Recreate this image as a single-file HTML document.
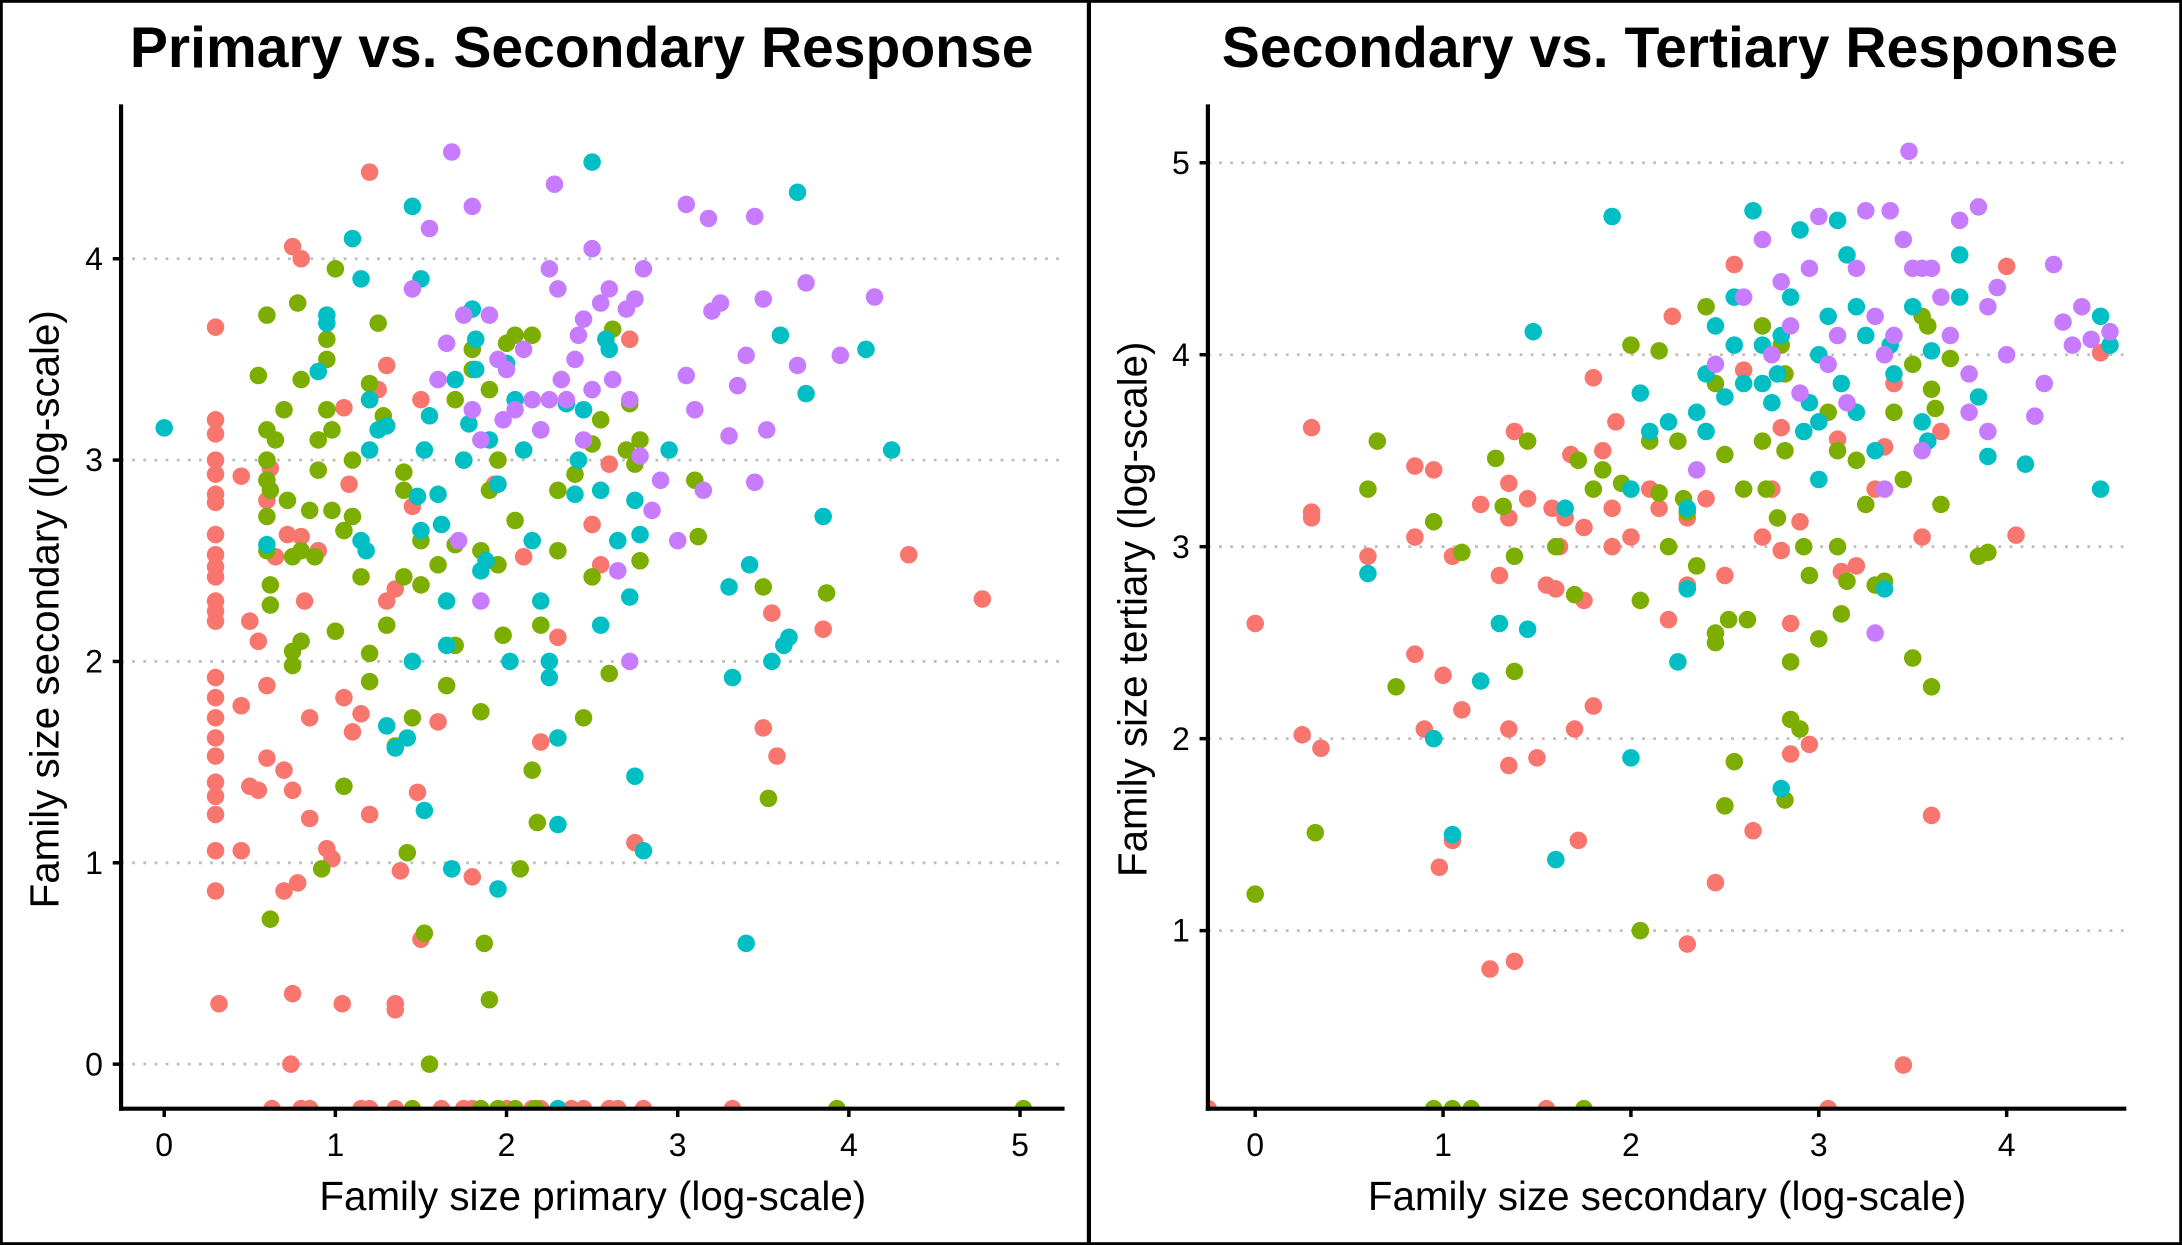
<!DOCTYPE html>
<html><head><meta charset="utf-8"><style>
html,body{margin:0;padding:0;background:#fff}
svg{display:block;font-family:"Liberation Sans",Arial,sans-serif}
</style></head><body>
<svg id="fig" width="2182" height="1245" viewBox="0 0 1568 895" preserveAspectRatio="none" xmlns="http://www.w3.org/2000/svg">
<defs>
<clipPath id="clipL"><rect x="87" y="60" width="680" height="737"/></clipPath>
<clipPath id="clipR"><rect x="868" y="60" width="670" height="737"/></clipPath>
</defs>
<rect x="0" y="0" width="1568" height="895" fill="#fff"/>
<rect x="1" y="1" width="781" height="893" fill="none" stroke="#000" stroke-width="2"/>
<rect x="783" y="1" width="784" height="893" fill="none" stroke="#000" stroke-width="2"/>
<text x="418" y="48" text-anchor="middle" font-size="41" font-weight="bold">Primary vs. Secondary Response</text>
<text x="1200" y="48" text-anchor="middle" font-size="41" font-weight="bold">Secondary vs. Tertiary Response</text>
<g id="gL"></g><g id="gR"></g>
</svg>
<script>
const colors = {red:"#F8766D", green:"#7CAE00", cyan:"#00BFC4", purple:"#C77CFF"};
const leftXTicks = [0,1,2,3,4,5];
const leftYTicks = [0,1,2,3,4];
const rightXTicks = [0,1,2,3,4];
const rightYTicks = [1,2,3,4,5];
const leftRed = [[0.3,3.2],[0.3,3.13],[0.3,3.0],[0.3,2.93],[0.3,2.83],[0.3,2.79],[0.3,2.63],[0.3,2.53],[0.3,2.47],[0.3,2.42],[0.3,2.3],[0.3,2.25],[0.3,2.2],[0.3,1.92],[0.3,1.82],[0.3,1.72],[0.3,1.62],[0.3,1.53],[0.3,1.4],[0.3,1.33],[0.3,1.24],[0.3,1.06],[0.3,0.86],[0.32,0.3],[0.3,3.66],[0.45,2.92],[0.5,2.2],[0.55,2.1],[0.45,1.78],[0.5,1.38],[0.55,1.36],[0.45,1.06],[0.6,1.88],[0.6,1.52],[0.65,2.52],[0.62,2.96],[0.6,2.8],[0.7,1.46],[0.7,0.86],[0.75,1.36],[0.72,2.63],[0.75,4.06],[0.8,4.0],[0.8,2.62],[0.82,2.3],[0.85,1.72],[0.78,0.9],[0.85,1.22],[0.75,0.35],[0.74,0],[0.9,2.55],[0.95,1.07],[0.98,1.02],[1.05,1.82],[1.05,3.26],[1.08,2.88],[1.1,1.65],[1.15,1.74],[1.2,4.43],[1.2,1.24],[1.25,3.35],[1.3,3.47],[1.3,2.3],[1.35,2.36],[1.35,0.3],[1.35,0.27],[1.38,0.96],[1.45,2.77],[1.48,1.35],[1.5,3.3],[1.5,0.62],[1.6,1.7],[1.8,0.93],[1.93,2.88],[2.1,2.52],[2.2,1.6],[2.3,2.12],[2.5,2.68],[2.55,2.48],[2.6,2.98],[2.72,3.6],[2.75,1.1],[3.5,1.67],[3.55,2.24],[3.58,1.53],[3.85,2.16],[4.35,2.53],[4.78,2.31],[1.04,0.3],[0.63,-0.3],[0.8,-0.3],[0.85,-0.3],[1.15,-0.3],[1.2,-0.3],[1.35,-0.3],[1.62,-0.3],[1.75,-0.3],[1.8,-0.3],[2.0,-0.3],[2.15,-0.3],[2.2,-0.3],[2.38,-0.3],[2.45,-0.3],[2.6,-0.3],[2.65,-0.3],[2.8,-0.3],[3.32,-0.3]];
const leftGreen = [[0.55,3.42],[0.6,3.72],[0.6,3.15],[0.65,3.1],[0.6,3.0],[0.6,2.9],[0.62,2.85],[0.6,2.72],[0.6,2.55],[0.62,2.38],[0.62,2.28],[0.7,3.25],[0.72,2.8],[0.75,2.52],[0.75,2.05],[0.75,1.98],[0.8,2.1],[0.8,3.4],[0.78,3.78],[0.8,2.55],[0.85,2.75],[0.88,2.52],[0.9,3.1],[0.9,2.95],[0.95,3.6],[0.95,3.5],[0.95,3.25],[0.98,3.15],[0.98,2.75],[1.0,2.15],[1.0,3.95],[1.05,2.65],[1.1,3.0],[1.1,2.72],[1.15,2.42],[1.2,3.38],[1.2,3.3],[1.2,1.9],[1.25,3.68],[1.28,3.22],[1.3,2.18],[1.35,1.58],[1.4,2.94],[1.4,2.85],[1.4,2.42],[1.42,1.05],[1.45,1.72],[1.5,2.6],[1.5,2.38],[1.52,0.65],[1.55,0.0],[1.6,2.48],[1.65,1.88],[1.7,3.3],[1.7,2.58],[1.7,2.08],[1.75,3.0],[1.8,3.55],[1.8,3.45],[1.85,2.55],[1.85,1.75],[1.87,0.6],[1.9,3.35],[1.9,2.85],[1.9,0.32],[1.95,2.48],[1.95,3.0],[1.98,2.13],[2.0,3.58],[2.05,3.62],[2.05,2.7],[2.08,0.97],[2.15,3.62],[2.15,1.46],[2.18,1.2],[2.2,2.18],[2.3,2.85],[2.3,2.55],[2.4,2.93],[2.45,1.72],[2.5,3.08],[2.5,2.42],[2.55,3.2],[2.6,1.94],[2.62,3.65],[2.7,3.05],[2.72,3.28],[2.75,2.98],[2.78,3.1],[2.78,2.5],[3.12,2.62],[3.1,2.9],[3.5,2.37],[3.53,1.32],[3.87,2.34],[0.62,0.72],[1.05,1.38],[1.2,2.04],[0.92,0.97],[1.45,-0.3],[1.85,-0.3],[1.95,-0.3],[2.05,-0.3],[2.17,-0.3],[3.93,-0.3],[5.02,-0.3]];
const leftCyan = [[0,3.16],[0.95,3.72],[0.95,3.68],[0.9,3.44],[0.6,2.58],[1.1,4.1],[1.15,3.9],[1.2,3.3],[1.2,3.05],[1.25,3.15],[1.3,3.17],[1.15,2.6],[1.18,2.55],[1.3,1.68],[1.35,1.57],[1.42,1.62],[1.45,2.0],[1.45,4.26],[1.5,3.9],[1.52,3.05],[1.55,3.22],[1.48,2.82],[1.5,2.65],[1.52,1.26],[1.6,2.83],[1.62,2.68],[1.65,2.3],[1.65,2.08],[1.7,3.4],[1.68,0.97],[1.75,3.0],[1.78,3.18],[1.8,3.75],[1.82,3.6],[1.82,3.45],[1.85,2.45],[1.88,2.5],[1.9,3.1],[1.95,2.88],[1.95,0.87],[2.0,3.48],[2.05,3.3],[2.02,2.0],[2.1,3.05],[2.15,2.6],[2.2,2.3],[2.2,3.15],[2.25,2.0],[2.25,1.92],[2.3,1.62],[2.3,1.19],[2.35,3.28],[2.4,2.83],[2.42,3.0],[2.45,3.25],[2.5,4.48],[2.55,2.18],[2.58,3.6],[2.6,3.55],[2.55,2.85],[2.65,2.6],[2.72,2.32],[2.75,2.8],[2.75,1.43],[2.78,2.63],[2.8,1.06],[2.95,3.05],[3.3,2.37],[3.32,1.92],[3.4,0.6],[3.42,2.48],[3.55,2.0],[3.6,3.62],[3.62,2.08],[3.65,2.12],[3.7,4.33],[3.75,3.33],[3.85,2.72],[4.1,3.55],[4.25,3.05],[2.3,-0.3]];
const leftPurple = [[1.45,3.85],[1.55,4.15],[1.68,4.53],[1.8,4.26],[1.6,3.4],[1.65,3.58],[1.75,3.72],[1.8,3.25],[1.85,3.1],[1.85,2.3],[1.9,3.72],[1.95,3.5],[1.98,3.2],[2.0,3.45],[2.05,3.25],[2.1,3.55],[2.15,3.3],[2.2,3.15],[2.25,3.95],[2.28,4.37],[2.3,3.85],[2.32,3.4],[2.35,3.3],[2.4,3.5],[2.42,3.62],[2.45,3.7],[2.5,4.05],[2.5,3.35],[2.55,3.78],[2.6,3.85],[2.62,3.4],[2.65,2.45],[2.7,3.75],[2.72,3.3],[2.75,3.8],[2.8,3.95],[2.78,3.02],[2.85,2.75],[2.9,2.9],[3.0,2.6],[3.05,4.27],[3.05,3.42],[3.1,3.25],[3.15,2.85],[3.18,4.2],[3.2,3.74],[3.25,3.78],[3.3,3.12],[3.35,3.37],[3.4,3.52],[3.45,4.21],[3.45,2.89],[3.5,3.8],[3.52,3.15],[3.7,3.47],[3.75,3.88],[3.95,3.52],[4.15,3.81],[2.25,3.3],[2.45,3.1],[1.72,2.6],[2.72,2.0]];
const rightRed = [[-0.25,0],[0,2.6],[0.25,2.02],[0.3,3.62],[0.3,3.18],[0.3,3.15],[0.35,1.95],[0.6,2.95],[0.85,3.42],[0.85,3.05],[0.85,2.44],[0.9,2.05],[0.95,3.4],[0.98,1.33],[1.0,2.33],[1.05,2.95],[1.05,1.47],[1.1,2.15],[1.2,3.22],[1.25,0.8],[1.3,2.85],[1.35,3.33],[1.35,3.15],[1.35,2.05],[1.35,1.86],[1.38,3.6],[1.38,0.84],[1.45,3.25],[1.5,1.9],[1.55,2.8],[1.58,3.2],[1.6,2.78],[1.62,3.0],[1.65,3.15],[1.68,3.48],[1.7,2.05],[1.72,1.47],[1.75,3.1],[1.75,2.72],[1.8,3.88],[1.8,2.17],[1.85,3.5],[1.9,3.2],[1.92,3.65],[2.1,3.3],[2.15,3.2],[2.2,2.62],[2.22,4.2],[2.3,0.93],[2.3,2.8],[2.3,3.15],[2.4,3.25],[2.45,1.25],[2.5,2.85],[2.55,4.47],[2.6,3.92],[2.65,1.52],[2.7,3.05],[2.75,3.3],[2.8,3.62],[2.8,2.98],[2.85,2.6],[2.85,1.92],[2.9,3.13],[2.95,1.97],[3.05,0],[3.1,3.56],[3.12,2.87],[3.2,2.9],[3.3,3.3],[3.35,3.52],[3.4,3.85],[3.45,0.3],[3.55,3.05],[3.6,1.6],[3.65,3.6],[4.0,4.46],[4.05,3.06],[4.5,4.01],[1.9,3.0],[2.0,3.05],[1.55,0]];
const rightGreen = [[0,1.19],[0.6,3.3],[0.65,3.55],[0.75,2.27],[0.95,3.13],[0.32,1.51],[1.1,2.97],[1.28,3.46],[1.32,3.21],[1.38,2.35],[1.38,2.95],[1.45,3.55],[1.6,3.0],[1.7,2.75],[1.72,3.45],[1.8,3.3],[1.85,3.4],[1.95,3.33],[2.0,4.05],[2.05,2.72],[2.05,1.0],[2.1,3.55],[2.15,4.02],[2.15,3.28],[2.2,3.0],[2.25,3.55],[2.28,3.25],[2.3,3.18],[2.35,2.9],[2.4,4.25],[2.45,3.85],[2.45,2.55],[2.45,2.5],[2.5,1.65],[2.5,3.48],[2.52,2.62],[2.55,1.88],[2.6,3.3],[2.62,2.62],[2.7,4.15],[2.7,3.55],[2.72,3.3],[2.78,3.15],[2.8,4.05],[2.82,3.9],[2.82,3.5],[2.85,2.1],[2.85,2.4],[2.9,2.05],[2.92,3.0],[2.95,2.85],[3.0,2.52],[3.05,3.7],[3.1,3.5],[3.1,3.0],[3.12,2.65],[3.15,2.82],[3.2,3.45],[3.25,3.22],[3.3,2.8],[3.35,2.82],[3.4,3.7],[3.45,3.35],[3.5,3.95],[3.5,2.42],[3.55,4.2],[3.58,4.15],[3.6,3.82],[3.62,3.72],[3.65,3.22],[3.7,3.98],[3.9,2.97],[3.85,2.95],[3.6,2.27],[2.82,1.68],[0.95,0],[1.05,0],[1.15,0],[1.75,0]];
const rightCyan = [[0.6,2.86],[0.95,2.0],[1.05,1.5],[1.2,2.3],[1.3,2.6],[1.45,2.57],[1.48,4.12],[1.6,1.37],[1.65,3.2],[1.9,4.72],[2.0,1.9],[2.0,3.3],[2.05,3.8],[2.1,3.6],[2.2,3.65],[2.25,2.4],[2.3,2.78],[2.3,3.2],[2.35,3.7],[2.4,3.9],[2.45,4.15],[2.5,3.78],[2.55,4.05],[2.55,4.3],[2.6,3.85],[2.65,4.75],[2.7,4.05],[2.75,3.75],[2.78,3.9],[2.8,4.1],[2.8,1.74],[2.85,4.3],[2.9,4.65],[2.92,3.6],[2.95,3.75],[3.0,4.0],[3.0,3.65],[3.05,4.2],[3.1,4.7],[3.12,3.85],[3.15,4.52],[3.2,4.25],[3.2,3.7],[3.25,4.1],[3.3,3.5],[3.35,2.78],[3.38,4.05],[3.4,3.9],[3.5,4.25],[3.55,3.65],[3.58,3.55],[3.6,4.02],[3.75,4.52],[3.75,4.3],[3.85,3.78],[3.9,3.47],[4.1,3.43],[4.5,4.2],[4.55,4.05],[4.5,3.3],[2.4,3.6],[2.7,3.85],[3.0,3.35]];
const rightPurple = [[2.35,3.4],[2.45,3.95],[2.6,4.3],[2.7,4.6],[2.75,4.0],[2.8,4.38],[2.85,4.15],[2.9,3.8],[2.95,4.45],[3.0,4.72],[3.05,3.95],[3.1,4.1],[3.15,3.75],[3.2,4.45],[3.25,4.75],[3.3,4.2],[3.35,4.0],[3.38,4.75],[3.4,4.1],[3.45,4.6],[3.48,5.06],[3.5,4.45],[3.55,4.45],[3.55,3.5],[3.6,4.45],[3.65,4.3],[3.7,4.1],[3.75,4.7],[3.8,3.7],[3.85,4.77],[3.9,4.25],[3.95,4.35],[4.0,4.0],[4.15,3.68],[4.2,3.85],[4.25,4.47],[4.3,4.17],[4.35,4.05],[4.4,4.25],[4.45,4.08],[4.55,4.12],[3.35,3.3],[3.3,2.55],[3.8,3.9],[3.9,3.6]];

const NS="http://www.w3.org/2000/svg";
function mk(tag, attrs, parent){const e=document.createElementNS(NS,tag);for(const k in attrs)e.setAttribute(k,attrs[k]);parent.appendChild(e);return e;}

function panel(g, cfg){
  const sx=v=>cfg.xpx+(v-cfg.xref)*cfg.xs;
  const sy=v=>Math.min(cfg.ypx-(v-cfg.yref)*cfg.ys, cfg.bottom);
  cfg.yt.forEach(t=>{
    const l=mk('line',{x1:cfg.left,x2:cfg.right,y1:sy(t),y2:sy(t),stroke:'#bebebe','stroke-width':2,'stroke-dasharray':'2,6'},g);
    
    
    const tk=mk('line',{x1:cfg.left-6,x2:cfg.left,y1:sy(t),y2:sy(t),stroke:'#000','stroke-width':2.5},g);
    
    
    const tx=mk('text',{x:cfg.left-13,y:sy(t)+8,'text-anchor':'end','font-size':23,fill:'#000'},g);
    tx.textContent=t;
    
    
  });
  cfg.xt.forEach(t=>{
    const tk=mk('line',{x1:sx(t),x2:sx(t),y1:cfg.bottom,y2:cfg.bottom+6,stroke:'#000','stroke-width':2.5},g);
    
    
    const tx=mk('text',{x:sx(t),y:cfg.bottom+34,'text-anchor':'middle','font-size':23,fill:'#000'},g);
    tx.textContent=t;
    
    
  });
  const pts=mk('g',{'clip-path':cfg.clip},g);
  
  
  [['red',cfg.d[0]],['green',cfg.d[1]],['cyan',cfg.d[2]],['purple',cfg.d[3]]].forEach(([c,arr])=>{
    arr.forEach(p=>{
      const ci=mk('circle',{cx:sx(p[0]),cy:sy(p[1]),r:6.3,fill:colors[c]},pts);
      
      
    });
  });
  const ax=mk('line',{x1:cfg.left,x2:cfg.left,y1:75,y2:cfg.bottom+1.5,stroke:'#000','stroke-width':3},g);
  
  
  const axx=mk('line',{x1:cfg.left-1.5,x2:cfg.right,y1:cfg.bottom,y2:cfg.bottom,stroke:'#000','stroke-width':3},g);
  
  
  const xt=mk('text',{x:(cfg.left+cfg.right)/2,y:870,'text-anchor':'middle','font-size':29,fill:'#000'},g);
  xt.textContent=cfg.xl;
  
  
  const cy=(75+cfg.bottom)/2+2;
  const yt=mk('text',{x:cfg.ylx,y:cy,'text-anchor':'middle','font-size':29,fill:'#000',transform:`rotate(-90 ${cfg.ylx} ${cy})`},g);
  yt.textContent=cfg.yl;
  
  
}
panel(document.getElementById('gL'),{xpx:118,xref:0,xs:123,ypx:765,yref:0,ys:144.75,left:87,right:765,bottom:797,
  yt:leftYTicks,xt:leftXTicks,d:[leftRed,leftGreen,leftCyan,leftPurple],clip:'url(#clipL)',
  xl:'Family size primary (log-scale)',yl:'Family size secondary (log-scale)',ylx:42});
panel(document.getElementById('gR'),{xpx:902,xref:0,xs:135,ypx:669,yref:1,ys:138,left:868,right:1528,bottom:797,
  yt:rightYTicks,xt:rightXTicks,d:[rightRed,rightGreen,rightCyan,rightPurple],clip:'url(#clipR)',
  xl:'Family size secondary (log-scale)',yl:'Family size tertiary (log-scale)',ylx:824});
</script>
</body></html>
